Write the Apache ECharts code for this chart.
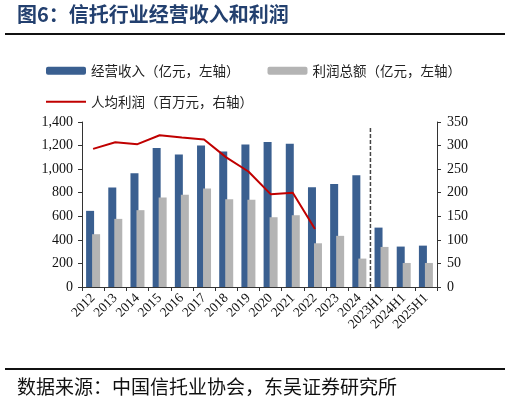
<!DOCTYPE html>
<html>
<head>
<meta charset="utf-8">
<script src="https://cdn.jsdelivr.net/npm/echarts@6/dist/echarts.min.js"></script>
<style>
html, body { margin: 0; padding: 0; background: #fff; }
#main { width: 510px; height: 403px; }
</style>
</head>
<body>
<div id="main"></div>
<script>
var categories = ['2012', '2013', '2014', '2015', '2016', '2017', '2018', '2019', '2020', '2021', '2022', '2023', '2024', '2023H1', '2024H1', '2025H1'];
// 经营收入（亿元）
var revenue = [646, 845, 965, 1180, 1125, 1200, 1150, 1210, 1230, 1215, 847, 873, 949, 504, 343, 351];
// 利润总额（亿元）
var profit = [448, 578, 652, 760, 782, 836, 745, 740, 592, 609, 371, 434, 241, 340, 204, 204];
// 人均利润（百万元）
var perCapita = [293, 307, 303, 322, 317, 313, 275, 245, 197, 200, 123, null, null, null, null, null];

var names = ['经营收入（亿元，左轴）', '利润总额（亿元，左轴）', '人均利润（百万元，右轴）'];

var serif = '"Liberation Serif", "Times New Roman", serif';
var cjk = '"Noto Sans CJK SC", sans-serif';

var myChart = echarts.init(document.getElementById('main'));

var option = {
    backgroundColor: '#fff',
    animation: false,
    legend: [
        {
            data: [names[0], names[1]],
            left: 41,
            top: 59,
            itemWidth: 40,
            itemHeight: 8,
            itemGap: 28,
            textStyle: { fontFamily: cjk, fontSize: 13.5, color: '#222' }
        },
        {
            data: [{ name: names[2], icon: 'rect' }],
            left: 41,
            top: 90,
            itemWidth: 40,
            itemHeight: 2,
            textStyle: { fontFamily: cjk, fontSize: 13.5, color: '#222' }
        }
    ],
    grid: { left: 82, right: 73, top: 122, bottom: 116 },
    xAxis: {
        type: 'category',
        data: categories,
        axisLine: { lineStyle: { color: '#333', width: 1 } },
        axisTick: { show: true, length: 4, lineStyle: { color: '#333' } },
        axisLabel: {
            interval: 0,
            rotate: 45,
            margin: 9,
            fontFamily: serif,
            fontSize: 13.5,
            color: '#111'
        }
    },
    yAxis: [
        {
            type: 'value',
            min: 0,
            max: 1400,
            interval: 200,
            splitLine: { show: false },
            axisLine: { show: true, lineStyle: { color: '#333' } },
            axisTick: { show: true, length: 4, lineStyle: { color: '#333' } },
            axisLabel: {
                margin: 9,
                fontFamily: serif,
                fontSize: 14,
                color: '#111',
                formatter: function (v) { return v.toLocaleString('en-US'); }
            }
        },
        {
            type: 'value',
            min: 0,
            max: 350,
            interval: 50,
            splitLine: { show: false },
            axisLine: { show: true, lineStyle: { color: '#333' } },
            axisTick: { show: true, length: 4, lineStyle: { color: '#333' } },
            axisLabel: {
                margin: 10,
                fontFamily: serif,
                fontSize: 14,
                color: '#111'
            }
        }
    ],
    series: [
        {
            name: names[0],
            type: 'bar',
            data: revenue,
            barWidth: 8,
            barGap: '-25%',
            itemStyle: { color: '#3a5f90' }
        },
        {
            name: names[1],
            type: 'bar',
            data: profit,
            barWidth: 8,
            itemStyle: { color: '#b4b4b4' }
        },
        {
            name: names[2],
            type: 'line',
            yAxisIndex: 1,
            data: perCapita,
            symbol: 'none',
            connectNulls: false,
            lineStyle: { color: '#c00000', width: 2 },
            itemStyle: { color: '#c00000' }
        }
    ]
};

option && myChart.setOption(option);

// 年度与半年度数据之间的分隔虚线
var xA = myChart.convertToPixel({ xAxisIndex: 0 }, '2024');
var xB = myChart.convertToPixel({ xAxisIndex: 0 }, '2023H1');
var yTop = myChart.convertToPixel({ yAxisIndex: 0 }, 1350);
var yBot = myChart.convertToPixel({ yAxisIndex: 0 }, 0);
var xMid = (xA + xB) / 2;

myChart.setOption({
    graphic: [
        {
            type: 'text',
            left: 17,
            top: 4,
            style: {
                text: '图6：信托行业经营收入和利润',
                fontFamily: cjk,
                fontSize: 20,
                fontWeight: 'bold',
                fill: '#23406f'
            }
        },
        {
            type: 'line',
            shape: { x1: 5, y1: 34, x2: 505, y2: 34 },
            style: { stroke: '#111', lineWidth: 2 }
        },
        {
            type: 'line',
            shape: { x1: xMid, y1: yTop, x2: xMid, y2: yBot },
            style: { stroke: '#444', lineWidth: 1.5, lineDash: [4, 2] },
            z: 10
        },
        {
            type: 'line',
            shape: { x1: 5, y1: 369, x2: 505, y2: 369 },
            style: { stroke: '#111', lineWidth: 2 }
        },
        {
            type: 'text',
            left: 17,
            top: 377,
            style: {
                text: '数据来源：中国信托业协会，东吴证券研究所',
                fontFamily: cjk,
                fontSize: 19,
                fill: '#111'
            }
        }
    ]
});
</script>
</body>
</html>
